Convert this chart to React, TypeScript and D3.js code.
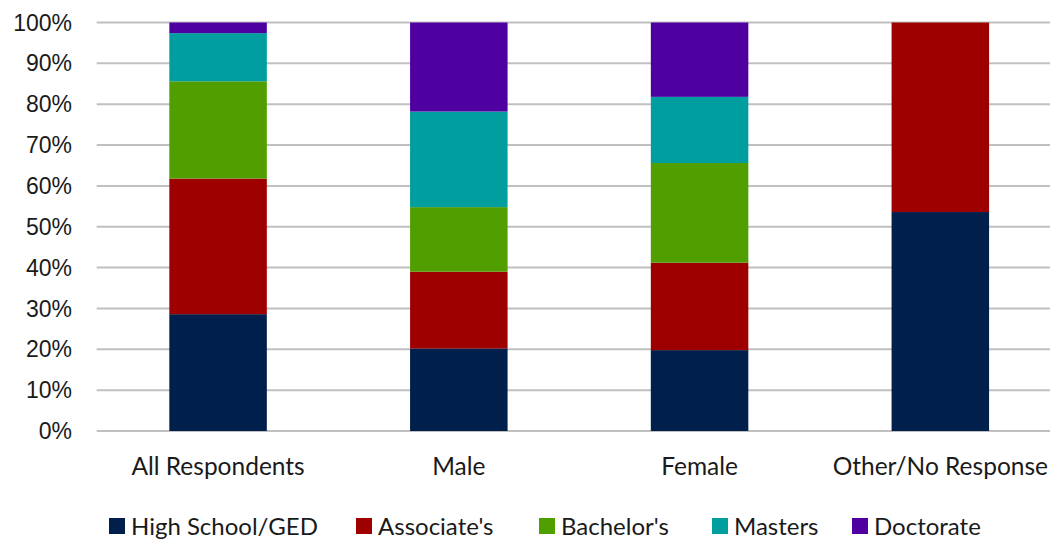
import React from "react";
import * as d3 from "d3";

const categories = ["All Respondents", "Male", "Female", "Other/No Response"];
const seriesNames = ["High School/GED", "Associate's", "Bachelor's", "Masters", "Doctorate"];
const colors = ["#001f4b", "#9e0000", "#519e00", "#009e9e", "#4f00a1"];
const highSchool = [28.6, 20.2, 19.8, 53.6];
const associates = [33.2, 18.8, 21.4, 46.4];
const bachelors = [23.8, 15.8, 24.4, 0];
const masters = [11.8, 23.4, 16.2, 0];
const doctorate = [2.6, 21.8, 18.2, 0];
const yTicks = [0, 10, 20, 30, 40, 50, 60, 70, 80, 90, 100];

const W = 1050;
const H = 539;
const plot = { left: 97.7, right: 1060.7, top: 22.5, bottom: 431 };

export default function App() {
  const seriesValues = [highSchool, associates, bachelors, masters, doctorate];
  const rows = categories.map((c, i) => {
    const r: Record<string, any> = { category: c };
    seriesNames.forEach((s, k) => (r[s] = seriesValues[k][i]));
    return r;
  });
  const stacked = d3.stack<any>().keys(seriesNames)(rows);

  const x = d3
    .scaleBand<string>()
    .domain(categories)
    .range([plot.left, plot.right])
    .paddingInner(0.595)
    .paddingOuter(0.2975);
  const y = d3.scaleLinear().domain([0, 100]).range([plot.bottom, plot.top]);

  const legendX = [109, 356, 539, 712, 852];
  const labelFont = "Lato, 'Open Sans', sans-serif";

  return (
    <svg width={W} height={H} style={{ position: "absolute", left: 0, top: 0, background: "#fff" }}>
      {yTicks.map((t) => (
        <g key={t}>
          <line x1={plot.left - 1} x2={W} y1={y(t)} y2={y(t)} stroke="#c0c0c0" strokeWidth={2} />
          <text
            x={72}
            y={y(t)}
            dy="0.35em"
            textAnchor="end"
            fontFamily="'Liberation Sans', Arial, sans-serif"
            fontSize={23}
            fill="#1a1a1a"
          >
            {t}%
          </text>
        </g>
      ))}
      {stacked.map((layer, k) => (
        <g key={layer.key} fill={colors[k]}>
          {layer.map((d, i) => (
            <rect
              key={i}
              x={x(categories[i])!}
              width={x.bandwidth()}
              y={y(d[1])}
              height={Math.max(0, y(d[0]) - y(d[1]))}
            />
          ))}
        </g>
      ))}
      {categories.map((c) => (
        <text
          key={c}
          x={x(c)! + x.bandwidth() / 2}
          y={475}
          textAnchor="middle"
          fontFamily={labelFont}
          fontSize={24.5}
          fill="#1a1a1a"
        >
          {c}
        </text>
      ))}
      {seriesNames.map((s, k) => (
        <g key={s} transform={`translate(${legendX[k]},0)`}>
          <rect x={0} y={518} width={16} height={16} fill={colors[k]} />
          <text x={22} y={535} fontFamily={labelFont} fontSize={24} fill="#1a1a1a">
            {s}
          </text>
        </g>
      ))}
    </svg>
  );
}
